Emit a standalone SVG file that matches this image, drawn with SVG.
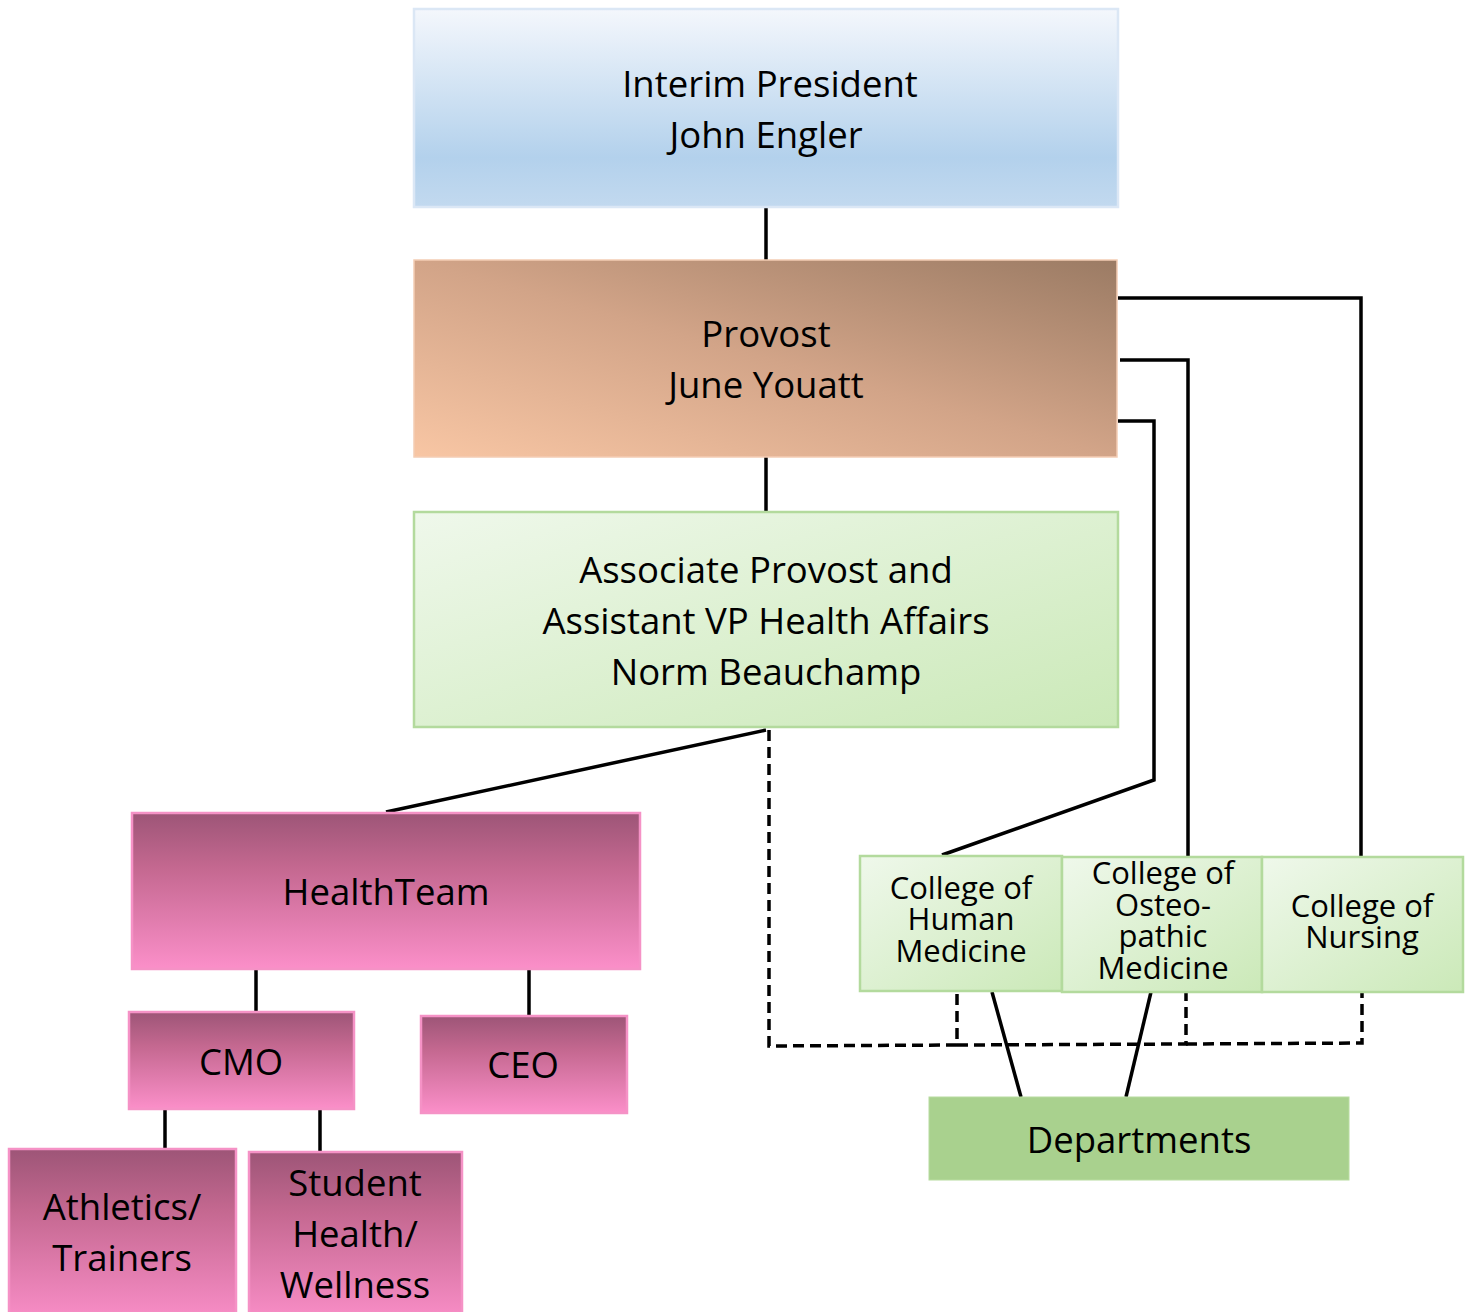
<svg xmlns="http://www.w3.org/2000/svg" width="1469" height="1312" viewBox="0 0 1469 1312">
<defs>
<linearGradient id="gBlue" x1="0" y1="0" x2="0" y2="1">
<stop offset="0" stop-color="#f4f7fc"/>
<stop offset="0.75" stop-color="#b3d1ec"/>
<stop offset="1" stop-color="#c2d9ef"/>
</linearGradient>
<linearGradient id="gBrown" x1="0" y1="1" x2="1" y2="0">
<stop offset="0" stop-color="#f8c6a4"/>
<stop offset="0.5" stop-color="#d2a488"/>
<stop offset="1" stop-color="#9b7b64"/>
</linearGradient>
<linearGradient id="gGreen" x1="0" y1="0" x2="1" y2="1">
<stop offset="0" stop-color="#eff8eb"/>
<stop offset="1" stop-color="#cbe9b8"/>
</linearGradient>
<linearGradient id="gPink" x1="0" y1="0" x2="0" y2="1">
<stop offset="0" stop-color="#9d5577"/>
<stop offset="0.35" stop-color="#c46890"/>
<stop offset="1" stop-color="#fb8fc9"/>
</linearGradient>
<style>
text{font-family:"Open Sans","Liberation Sans",sans-serif;fill:#000;text-anchor:middle}
.big{font-size:36.5px}
.col{font-size:31px}
.pink{fill:url(#gPink);stroke:#f592c6;stroke-width:2.5}
.green{fill:url(#gGreen);stroke:#b3da9d;stroke-width:2.5}
.ln{fill:none;stroke:#000;stroke-width:3.5}
.dash{fill:none;stroke:#000;stroke-width:3.5;stroke-dasharray:11 6}
</style>
</defs>
<g id="connectors">
<line class="ln" x1="766" y1="207" x2="766" y2="260"/>
<line class="ln" x1="766" y1="457" x2="766" y2="512"/>
<line class="ln" x1="766" y1="730" x2="386" y2="812"/>
<polyline class="ln" points="1118,298 1361,298 1361,857"/>
<polyline class="ln" points="1120,360 1188,360 1188,857"/>
<polyline class="ln" points="1118,421 1154,421 1154,780 942,855"/>
<line class="ln" x1="256" y1="969" x2="256" y2="1012"/>
<line class="ln" x1="529" y1="969" x2="529" y2="1016"/>
<line class="ln" x1="165" y1="1109" x2="165" y2="1149"/>
<line class="ln" x1="320" y1="1109" x2="320" y2="1152"/>
<line class="ln" x1="992" y1="992" x2="1021" y2="1097"/>
<line class="ln" x1="1151" y1="992" x2="1126" y2="1097"/>
<polyline class="dash" points="769,730 769,1046 957,1045 957,992"/>
<polyline class="dash" points="957,1045 1186,1044 1186,992"/>
<polyline class="dash" points="1186,1044 1362,1043 1362,992"/>
</g>
<g id="president">
<rect x="414" y="9" width="704" height="198" fill="url(#gBlue)" stroke="#dbe7f5" stroke-width="2.5"/>
<text class="big" x="770" y="97">Interim President</text>
<text class="big" x="766" y="148">John Engler</text>
</g>
<g id="provost">
<rect x="414" y="260" width="703" height="197" fill="url(#gBrown)" stroke="#f4cdb4" stroke-width="1.5"/>
<text class="big" x="766" y="347">Provost</text>
<text class="big" x="766" y="398">June Youatt</text>
</g>
<g id="assoc">
<rect x="414" y="512" width="704" height="215" class="green"/>
<text class="big" x="766" y="583">Associate Provost and</text>
<text class="big" x="766" y="634">Assistant VP Health Affairs</text>
<text class="big" x="766" y="685">Norm Beauchamp</text>
</g>
<g id="healthteam">
<rect x="132" y="813" width="508" height="156" class="pink"/>
<text class="big" x="386" y="905">HealthTeam</text>
</g>
<g id="cmo">
<rect x="129" y="1012" width="225" height="97" class="pink"/>
<text class="big" x="241" y="1075">CMO</text>
</g>
<g id="ceo">
<rect x="421" y="1016" width="206" height="97" class="pink"/>
<text class="big" x="523" y="1078">CEO</text>
</g>
<g id="athletics">
<rect x="9" y="1149" width="227" height="175" class="pink"/>
<text class="big" x="122" y="1220">Athletics/</text>
<text class="big" x="122" y="1271">Trainers</text>
</g>
<g id="student">
<rect x="249" y="1152" width="213" height="172" class="pink"/>
<text class="big" x="355" y="1196">Student</text>
<text class="big" x="355" y="1247">Health/</text>
<text class="big" x="355" y="1298">Wellness</text>
</g>
<g id="chm">
<rect x="860" y="856" width="202" height="135" class="green"/>
<text class="col" x="961" y="899">College of</text>
<text class="col" x="961" y="930">Human</text>
<text class="col" x="961" y="962">Medicine</text>
</g>
<g id="com">
<rect x="1062" y="857" width="200" height="135" class="green"/>
<text class="col" x="1163" y="884">College of</text>
<text class="col" x="1163" y="916">Osteo-</text>
<text class="col" x="1163" y="947">pathic</text>
<text class="col" x="1163" y="979">Medicine</text>
</g>
<g id="con">
<rect x="1262" y="857" width="201" height="135" class="green"/>
<text class="col" x="1362" y="917">College of</text>
<text class="col" x="1362" y="948">Nursing</text>
</g>
<g id="departments">
<rect x="929" y="1097" width="420" height="83" fill="#a9d18e" stroke="#b8dca0" stroke-width="1"/>
<text class="big" x="1139" y="1153">Departments</text>
</g>
</svg>
